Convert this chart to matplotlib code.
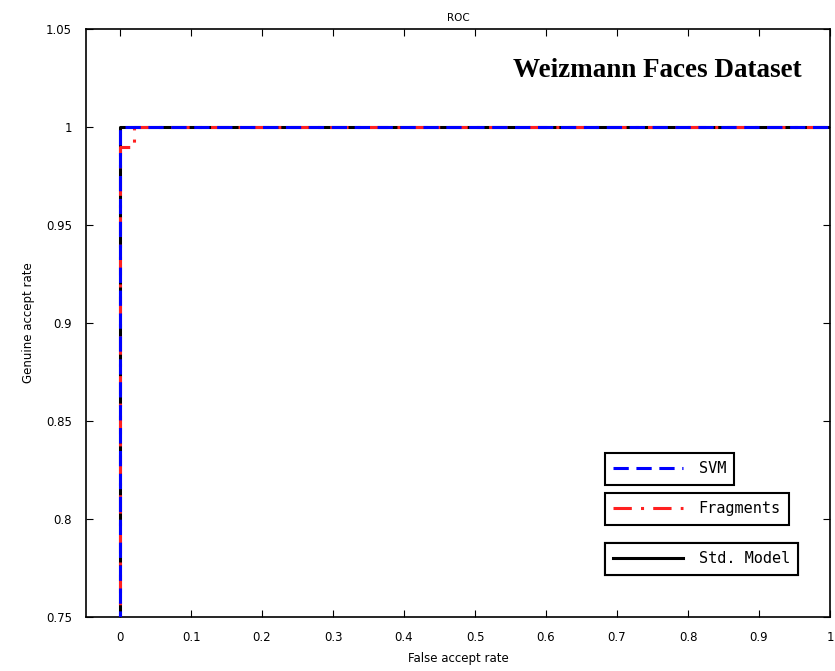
import numpy as np
import matplotlib.pyplot as plt

# ROC curves (false accept rate, genuine accept rate)
svm_far = [0.0, 0.0, 1.0]
svm_gar = [0.70, 1.0, 1.0]

frag_far = [0.0, 0.0, 0.02, 0.02, 1.0]
frag_gar = [0.70, 0.99, 0.99, 1.0, 1.0]

std_far = [0.0, 0.0, 1.0]
std_gar = [0.70, 1.0, 1.0]

x_ticks = [0, 0.1, 0.2, 0.3, 0.4, 0.5, 0.6, 0.7, 0.8, 0.9, 1]
x_tick_labels = ["0", "0.1", "0.2", "0.3", "0.4", "0.5", "0.6", "0.7", "0.8", "0.9", "1"]
y_ticks = [0.75, 0.8, 0.85, 0.9, 0.95, 1, 1.05]
y_tick_labels = ["0.75", "0.8", "0.85", "0.9", "0.95", "1", "1.05"]

fig = plt.figure(figsize=(8.35, 6.71), dpi=100)
ax = fig.add_axes([86 / 835, 1 - 617 / 671, 744 / 835, 588 / 671])

std_line, = ax.plot(std_far, std_gar, color="black", lw=2.2, zorder=2)
frag_line, = ax.plot(frag_far, frag_gar, color="#ff2020", lw=2.2,
                     linestyle=(0, (6, 3, 1, 3)), zorder=3)
svm_line, = ax.plot(svm_far, svm_gar, color="#0000ff", lw=2.2,
                    linestyle=(0, (5, 2.5)), zorder=4)

ax.set_xlim(-0.048, 1.0)
ax.set_ylim(0.75, 1.05)
ax.set_xticks(x_ticks)
ax.set_xticklabels(x_tick_labels)
ax.set_yticks(y_ticks)
ax.set_yticklabels(y_tick_labels)
ax.tick_params(direction="in", top=True, right=True, labelsize=8.5, length=5, pad=10)
for s in ax.spines.values():
    s.set_linewidth(1.2)

ax.set_title("ROC", fontsize=7.5, pad=6)
ax.set_xlabel("False accept rate", fontsize=8.5, labelpad=6)
ax.set_ylabel("Genuine accept rate", fontsize=8.5, labelpad=8)

ax.text(0.962, 0.93, "Weizmann Faces Dataset", transform=ax.transAxes,
        ha="right", va="center", fontsize=19.5, fontweight="bold",
        family="Liberation Serif")

legend_specs = [
    (svm_line, "SVM", 0.279),
    (frag_line, "Fragments", 0.211),
    (std_line, "Std. Model", 0.126),
]
for handle, label, top in legend_specs:
    leg = ax.legend([handle], [label], loc="upper left",
                    bbox_to_anchor=(0.697, top), borderaxespad=0,
                    prop={"family": "DejaVu Sans Mono", "size": 11},
                    frameon=True, fancybox=False,
                    handlelength=4.6, handletextpad=1.0, borderpad=0.55,
                    framealpha=1)
    leg.get_frame().set_edgecolor("black")
    leg.get_frame().set_linewidth(1.5)
    ax.add_artist(leg)

fig.savefig("out.png", dpi=100)
